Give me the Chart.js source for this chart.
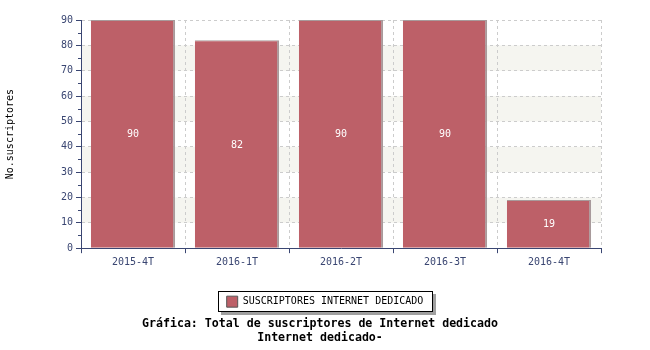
<!DOCTYPE html>
<html>
<head>
<meta charset="utf-8">
<script src="https://cdn.jsdelivr.net/npm/chart.js@4"></script>
<style>
  body { margin: 0; background: #fff; }
  #wrap { width: 650px; height: 350px; }
</style>
</head>
<body>
<div id="wrap"><canvas id="suscriptoresChart" width="650" height="350"></canvas></div>
<script>
'use strict';

// Data
const categories = ['2015-4T', '2016-1T', '2016-2T', '2016-3T', '2016-4T'];
const suscriptores = [90, 82, 90, 90, 19];
const seriesName = 'SUSCRIPTORES INTERNET DEDICADO';
const yTicks = [0, 10, 20, 30, 40, 50, 60, 70, 80, 90];
const titleLines = ['Gráfica: Total de suscriptores de Internet dedicado', 'Internet dedicado-'];

const FONT = '"DejaVu Sans Mono", monospace';
const NAVY = '#3a4672';
const BAR = '#bd6068';

// shaded bands + legend frame, drawn before everything else
const backdrop = {
    id: 'backdrop',
    afterLayout(chart) {
        // the title sits a few px left of the legend in the original
        chart.titleBlock.left -= 5;
        chart.titleBlock.right -= 5;
    },
    beforeDraw(chart) {
        const {ctx, chartArea, scales: {y}} = chart;
        ctx.save();
        ctx.fillStyle = '#f5f5f0';
        for (let v = 10; v < 90; v += 20) {
            const top = y.getPixelForValue(v + 10);
            const bottom = y.getPixelForValue(v);
            ctx.fillRect(chartArea.left, top, chartArea.right - chartArea.left, bottom - top);
        }
        const hb = chart.legend.legendHitBoxes[0];
        if (hb) {
            const x = Math.round(hb.left - 9), yy = Math.round(hb.top - 5);
            const w = Math.round(hb.width + 18), h = 21;
            ctx.fillStyle = '#a0a0a0';
            ctx.fillRect(x + 3, yy + 3, w, h);
            ctx.fillStyle = '#fff';
            ctx.fillRect(x, yy, w, h);
            ctx.strokeStyle = '#000';
            ctx.lineWidth = 1;
            ctx.strokeRect(x + 0.5, yy + 0.5, w - 1, h - 1);
        }
        ctx.restore();
    },
    // short minor ticks at the 5s
    afterDraw(chart) {
        const {ctx, chartArea, scales: {y}} = chart;
        ctx.save();
        ctx.strokeStyle = NAVY;
        ctx.lineWidth = 1;
        for (let v = 5; v < 90; v += 10) {
            const py = Math.round(y.getPixelForValue(v)) + 0.5;
            ctx.beginPath();
            ctx.moveTo(chartArea.left - 3, py);
            ctx.lineTo(chartArea.left, py);
            ctx.stroke();
        }
        ctx.restore();
    }
};

// value labels in the middle of each bar
const barLabels = {
    id: 'barLabels',
    afterDatasetsDraw(chart) {
        const {ctx} = chart;
        ctx.save();
        ctx.fillStyle = '#fff';
        ctx.font = '10px ' + FONT;
        ctx.textAlign = 'center';
        ctx.textBaseline = 'middle';
        chart.getDatasetMeta(0).data.forEach((bar, i) => {
            ctx.fillText(String(suscriptores[i]), bar.x, (bar.y + bar.base) / 2 + 1);
        });
        ctx.restore();
    }
};

const ctx = document.getElementById('suscriptoresChart');
const chart = new Chart(ctx, {
    type: 'bar',
    data: {
        labels: categories,
        datasets: [{
            label: seriesName,
            data: suscriptores,
            backgroundColor: BAR,
            borderColor: '#a89a9b',
            borderWidth: {top: 1, right: 2, left: 0, bottom: 0},
            categoryPercentage: 1,
            barPercentage: 0.81
        }]
    },
    options: {
        responsive: false,
        animation: false,
        layout: {padding: {left: 0, right: 0, top: 20, bottom: 5}},
        scales: {
            x: {
                offset: true,
                grid: {
                    offset: true,
                    color: '#cccccc',
                    tickColor: NAVY,
                    tickLength: 5
                },
                border: {color: NAVY, dash: [3, 3]},
                ticks: {color: NAVY, font: {family: FONT, size: 10}, padding: 3},
                afterFit(scale) { scale.height = 44; }
            },
            y: {
                min: 0,
                max: 90,
                afterBuildTicks(scale) {
                    const t = [];
                    for (let v = 0; v <= 90; v += 5) t.push({value: v});
                    scale.ticks = t;
                },
                grid: {
                    color: c => (c.tick && c.tick.value % 10 === 0) ? '#cccccc' : 'rgba(0,0,0,0)',
                    tickColor: c => (c.tick && c.tick.value % 10 === 0) ? NAVY : 'rgba(0,0,0,0)',
                    tickLength: 5
                },
                border: {color: NAVY, dash: [3, 3]},
                ticks: {
                    color: NAVY,
                    font: {family: FONT, size: 10},
                    padding: 3,
                    autoSkip: false,
                    callback: v => yTicks.includes(v) ? String(v) : ''
                },
                title: {
                    display: true,
                    text: 'No.suscriptores',
                    color: '#000',
                    font: {family: FONT, size: 10}
                },
                afterFit(scale) { scale.width = 81; }
            },
            // empty right-hand strip so legend and title centre on the full width
            right: {
                position: 'right',
                grid: {display: false},
                border: {display: false},
                ticks: {display: false},
                afterFit(scale) { scale.width = 49; }
            }
        },
        plugins: {
            legend: {
                position: 'bottom',
                onClick: null,
                labels: {
                    color: '#000',
                    font: {family: FONT, size: 10},
                    boxWidth: 11,
                    boxHeight: 11,
                    padding: 4,
                    generateLabels: () => [{
                        text: seriesName,
                        fillStyle: BAR,
                        strokeStyle: '#555',
                        lineWidth: 1,
                        datasetIndex: 0
                    }]
                }
            },
            title: {
                display: true,
                position: 'bottom',
                text: titleLines,
                color: '#000',
                font: {family: FONT, size: 11.6, weight: 'bold', lineHeight: 1.2},
                padding: {top: 0, bottom: 0}
            },
            tooltip: {enabled: false}
        }
    },
    plugins: [backdrop, barLabels]
});
</script>
</body>
</html>
